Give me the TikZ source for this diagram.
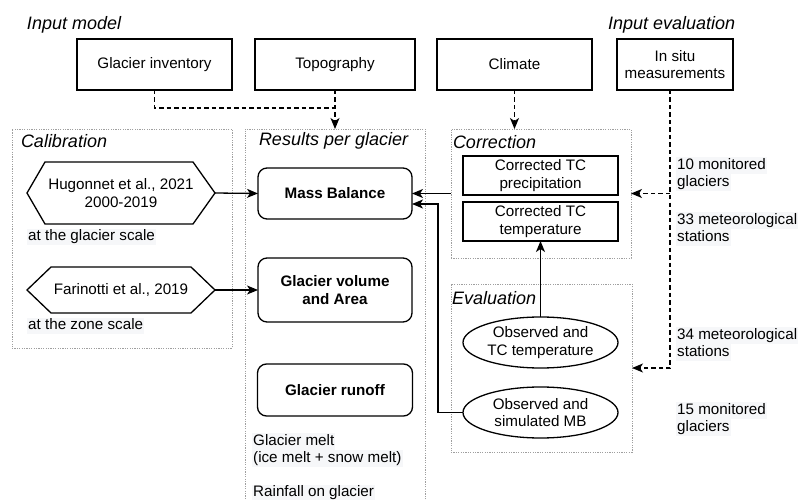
\documentclass[tikz,border=0pt]{standalone}
\usepackage{fontspec}
\setmainfont{Liberation Sans}
\usetikzlibrary{arrows.meta,calc,shapes.geometric}
\definecolor{lbg}{RGB}{246,247,249}
\newcommand\hlbg[1]{{\setlength{\fboxsep}{1.2pt}\colorbox{lbg}{\vphantom{Agy(}#1}}}
\begin{document}
\begin{tikzpicture}[x=1pt,y=-1pt,
  every node/.style={font=\fontsize{15.2}{17.5}\selectfont, inner sep=0pt, outer sep=0pt, align=center},
  inbox/.style={draw, line width=1.3pt},
  rbox/.style={draw, line width=1.3pt, rounded corners=9pt, font=\fontsize{15.2}{17.5}\selectfont\bfseries},
  oval/.style={draw, ellipse, line width=1.3pt, minimum width=155, minimum height=51},
  cont/.style={draw=gray!75, line width=0.9pt, dash pattern=on 1.2pt off 1.2pt, anchor=north west},
  ttl/.style={font=\fontsize{18}{21}\selectfont\itshape, anchor=west},
  note/.style={anchor=west, align=left},
  conn/.style={line width=1.3pt, -{Stealth[length=11pt,width=9pt,inset=3pt]}},
  dconn/.style={conn, dash pattern=on 4.5pt off 3pt},
  dline/.style={line width=1.3pt, dash pattern=on 4.5pt off 3pt},
  hexa/.style={line width=1.3pt}
]
\useasboundingbox (0,0) rectangle (801,500);

% containers
\node[cont, minimum width=220, minimum height=219] (cal) at (12,129) {};
\node[cont, minimum width=180, minimum height=380] (res) at (245,129) {};
\node[cont, minimum width=180, minimum height=129] (corr) at (451,129) {};
\node[cont, minimum width=181, minimum height=168] (ev) at (451,284) {};

% titles
\node[ttl] (tin) at (27,25) {Input model};
\node[ttl] (tie) at (608,25) {Input evaluation};
\node[ttl] (tcal) at (21,141) {Calibration};
\node[ttl] (tres) at (259,141) {Results per glacier};
\node[ttl] (tcorr) at (453,142) {Correction};
\node[ttl] (tev) at (452,298) {Evaluation};

% inputs
\node[inbox, minimum width=155, minimum height=51] (inv) at (154.5,64.5) {Glacier inventory};
\node[inbox, minimum width=160, minimum height=51] (topo) at (335,64.5) {Topography};
\node[inbox, minimum width=155, minimum height=51] (clim) at (514.5,64.5) {Climate};
\node[inbox, minimum width=116, minimum height=51] (insitu) at (675,64.5) {In situ\\measurements};

% calibration
\node[minimum width=188, minimum height=62] (hug) at (121,193) {Hugonnet et al., 2021\\2000-2019};
\draw[hexa] (hug.west) -- ([xshift=18pt]hug.north west) -- ([xshift=-22pt]hug.north east) -- (hug.east)
  -- ([xshift=-22pt]hug.south east) -- ([xshift=18pt]hug.south west) -- cycle;
\node[minimum width=188, minimum height=46] (far) at (121,290) {Farinotti et al., 2019};
\draw[hexa] (far.west) -- ([xshift=24pt]far.north west) -- ([xshift=-24pt]far.north east) -- (far.east)
  -- ([xshift=-24pt]far.south east) -- ([xshift=24pt]far.south west) -- cycle;
\node[note] (n1) at (27,237) {\hlbg{at the glacier scale}};
\node[note] (n2) at (27,326) {\hlbg{at the zone scale}};

% results
\node[rbox, minimum width=154, minimum height=51] (mb) at (335,193.5) {Mass Balance};
\node[rbox, minimum width=154, minimum height=64] (gva) at (335,290) {Glacier volume\\and Area};
\node[rbox, minimum width=155, minimum height=52] (gr) at (335,390) {Glacier runoff};
\node[note] (n3) at (252,450) {\hlbg{Glacier melt}\\\hlbg{(ice melt + snow melt)}};
\node[note] (n4) at (252,493) {\hlbg{Rainfall on glacier}};

% correction
\node[inbox, minimum width=155, minimum height=39] (ctp) at (540.5,175.5) {Corrected TC\\precipitation};
\node[inbox, minimum width=155, minimum height=39] (ctt) at (540.5,221.5) {Corrected TC\\temperature};

% evaluation
\node[oval] (eot) at (540.5,342.5) {Observed and\\TC temperature};
\node[oval] (eom) at (540.5,412.5) {Observed and\\simulated MB};

% right notes
\node[note] (n5) at (676,174) {\hlbg{10 monitored}\\\hlbg{glaciers}};
\node[note] (n6) at (676,229) {\hlbg{33 meteorological}\\\hlbg{stations}};
\node[note] (n7) at (676,344) {\hlbg{34 meteorological}\\\hlbg{stations}};
\node[note] (n8) at (676,419) {\hlbg{15 monitored}\\\hlbg{glaciers}};

% connectors
\coordinate (j1) at (335,108);
\draw[dline] (inv.south) |- (j1);
\draw[dconn] (topo.south) -- (res.north);
\draw[dconn] (clim.south) -- (clim.south |- corr.north);
\coordinate (is) at ([xshift=-5pt]insitu.south);
\draw[dconn] (is) |- (ev.east);
\draw[dconn] (is |- corr.east) -- (corr.east);
\draw[conn] (hug.east) -- (mb.west);
\draw[conn] (far.east) -- (gva.west);
\draw[conn] (corr.west) -- (mb.east);
\coordinate (k) at (438,204);
\draw[conn] (eom.west) -| (k) -- (k -| mb.east);
\draw[conn] (eot.north) -- (ctt.south);
\end{tikzpicture}
\end{document}
